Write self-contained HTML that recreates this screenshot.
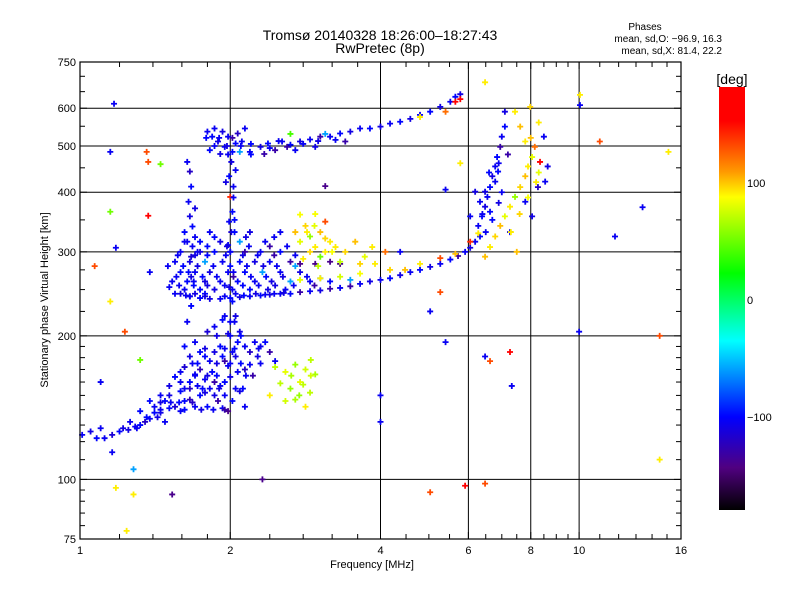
<!DOCTYPE html>
<html><head><meta charset="utf-8"><style>
html,body{margin:0;padding:0;background:#fff;}
svg{display:block;font-family:"Liberation Sans",sans-serif;}
</style></head><body>
<svg id="chart" width="800" height="600" viewBox="0 0 800 600" xmlns="http://www.w3.org/2000/svg">
<rect width="800" height="600" fill="#fff"/>
<text x="380" y="40" font-size="14" text-anchor="middle">Tromsø 20140328 18:26:00–18:27:43</text>
<text x="380" y="53" font-size="14" text-anchor="middle">RwPretec (8p)</text>
<text x="645" y="30" font-size="10" text-anchor="middle">Phases</text>
<text x="722" y="42" font-size="10" text-anchor="end">mean, sd,O: −96.9, 16.3</text>
<text x="722" y="54" font-size="10" text-anchor="end">mean, sd,X:  81.4, 22.2</text>
<text x="372" y="568" font-size="11" text-anchor="middle">Frequency [MHz]</text>
<text x="48" y="300" font-size="11" text-anchor="middle" transform="rotate(-90 48 300)">Stationary phase Virtual Height [km]</text>
<g id="grid"></g>
<g id="marks"></g>
<g id="axes"></g>
<defs><linearGradient id="cbg" x1="0" y1="0" x2="0" y2="1">
<stop offset="0" stop-color="#ff0000"/><stop offset="0.08" stop-color="#ff0000"/><stop offset="0.2" stop-color="#ff9900"/><stop offset="0.26" stop-color="#ffff00"/><stop offset="0.44" stop-color="#00ff00"/><stop offset="0.6" stop-color="#00ffff"/><stop offset="0.78" stop-color="#0000ff"/><stop offset="0.9" stop-color="#500080"/><stop offset="1" stop-color="#000000"/>
</linearGradient></defs>
<rect x="719" y="87" width="26" height="423" fill="url(#cbg)"/>
<text x="732" y="84" font-size="14" text-anchor="middle">[deg]</text>
<text x="747" y="187" font-size="11">100</text>
<text x="747" y="304" font-size="11">0</text>
<text x="747" y="421" font-size="11">−100</text>
</svg>
<script>
const xTicks=[1,2,4,6,8,10,16];
const xGrid=[2,4,6,8,10];
const xMinor=[1.2,1.4,1.6,1.8,2.4,2.8,3.2,3.6,4.5,5,5.5,6.5,7,7.5,8.5,9,9.5,11,12,13,14,15];
const yTicks=[75,100,200,300,400,500,600,750];
const yGrid=[100,200,300,400,500,600];
const yMinor=[80,85,90,95,110,120,130,140,150,160,170,180,190,225,250,275,350,450,550,650,700];
// [frequency MHz, height km, phase deg]
const eLayer=[[1.01,124,-105],[1.05,126,-110],[1.08,122,-100],[1.12,122,-105],[1.16,124,-115],[1.20,126,-100],[1.25,127,-110],[1.29,129,-105],[1.32,130,-100],[1.35,132,-120],[1.38,134,-105],[1.41,138,-100],[1.45,138,-110],[1.48,132,-105],[1.51,141,-100],[1.55,142,-115],[1.59,139,-105],[1.62,146,-100],[1.66,147,-125],[1.70,142,-105],[1.74,150,-100],[1.78,152,-110],[1.82,155,-105],[1.86,160,-130],[1.91,157,-105],[1.95,160,-100],[2.00,164,-110],[2.07,168,-105],[2.14,170,-120],[2.19,174,-105],[2.27,181,-110],
[1.38,146,-100],[1.45,150,-105],[1.51,157,-110],[1.55,164,-100],[1.59,168,-105],[1.62,172,-115],[1.66,160,-100],[1.70,166,-105],[1.74,170,-125],[1.78,181,-100],[1.82,177,-105],[1.86,185,-110],[1.91,190,-100],[1.95,177,-130],[2.02,185,-105],[2.07,194,-100],[2.09,204,-110],[2.14,190,-105],[2.19,185,-120],[2.24,194,-105],[1.62,190,-100],[1.66,181,-110],[1.70,194,-105],[1.74,185,-100],[1.80,204,-115],[1.86,209,-105],[1.93,216,-100],[1.98,202,-110],[2.04,214,-105],[1.89,146,-130],[1.95,150,-105],[2.02,146,-100],[2.09,153,-110],[2.14,142,-105],[1.32,139,-100],[1.26,132,-105],[1.45,145,-110],[2.30,190,-105],[2.40,185,-130],[2.46,177,-105],[2.35,194,-100],[1.98,139,-140],[1.93,141,-105],[1.59,153,-100],[1.51,150,-110],[1.78,162,-105],[1.84,168,-100],[1.66,155,-120],[1.72,157,-105],[1.80,142,-100],[1.86,150,-110],[1.59,160,-105],[1.48,146,-100],[1.41,142,-105],[2.05,181,-110],[1.98,173,-105],[1.93,181,-100]];
const eLayerExtra=[[1.10,128,-105],[1.22,128,-110],[1.30,128,-105],[1.36,135,-100],[1.43,135,-110],[1.52,145,-105],[1.58,145,-100],[1.68,145,-120],[1.62,155,-105],[1.76,155,-100],[1.90,155,-110],[2.05,155,-105],[2.12,155,-100],[1.70,165,-105],[1.80,165,-110],[1.88,165,-100],[2.15,165,-105],[2.22,165,-130],[1.68,175,-105],[1.72,175,-100],[1.88,175,-110],[2.00,175,-105],[2.10,175,-100],[2.30,175,-105],[1.78,188,-110],[1.95,188,-105],[2.04,188,-100],[2.28,188,-105],[1.88,200,-110],[2.00,200,-105],[2.10,200,-100],[1.95,220,-105],[2.05,220,-110],[1.45,140,-105],[1.62,140,-100],[1.75,140,-110],[1.85,140,-105],[1.95,140,-130]];
const columns=[[1.64,214,-105],[1.67,231,-100],[1.66,242,-110],[1.69,260,-105],[1.65,272,-100],[1.67,293,-115],[1.64,315,-105],[1.68,339,-100],[1.66,356,-110],[1.65,382,-105],[1.67,411,-100],[1.66,442,-120],[1.64,463,-105],
[2.00,214,-105],[2.02,236,-100],[1.99,253,-110],[2.03,272,-105],[2.00,300,-100],[2.01,330,-115],[1.99,347,-105],[2.02,364,-100],[2.00,391,140],[2.03,411,-105],[1.99,432,-100],[2.01,463,-110],
[1.72,300,-105],[1.62,330,-100],[1.70,370,-110],[1.98,310,-105],[2.04,350,-100],[2.03,390,-105],[1.96,420,-110],[2.05,445,-105]];
const upperTrace=[[1.80,536,-105],[1.84,523,-100],[1.89,511,-110],[1.95,498,-105],[2.02,486,-100],[2.07,531,-120],[2.11,511,-105],[1.82,490,-100],[1.91,481,-110],[1.98,523,-105],[2.05,506,-100],[1.86,544,-105],[1.93,536,-110],[2.09,486,-60],[2.14,544,-105],
[2.19,486,-105],[2.30,498,-110],[2.38,506,-100],[2.46,490,-130],[2.54,511,-105],[2.64,503,-100],[2.76,511,-110],[2.89,516,-105],[3.03,523,-130],[3.17,523,-105],[3.32,531,-100],[3.48,536,-110],[3.64,544,-105],[3.81,544,-100],[4.00,549,-110],[4.18,557,-105],[4.38,562,-100],[4.59,570,-110],[4.80,581,-105],[5.03,590,-100],[5.27,604,-110],[5.52,619,-105],[5.65,634,-100],[5.78,642,-110],
[2.34,481,-130],[2.70,490,-105],[2.96,498,-110],[3.40,511,-130],[5.65,619,150],[5.78,627,170],[5.40,590,120],[4.80,575,90],[2.64,530,40],[3.10,530,-60],
[1.86,500,-105],[1.97,500,-110],[2.10,500,-105],[1.79,520,-100],[1.90,520,-105],[2.02,520,-130],[1.98,480,-105],[2.20,480,-100],[2.40,495,-105],[2.60,498,-130],[2.80,505,-105],[3.00,512,-110],[3.25,515,-105],[2.20,505,-100],[2.50,512,-105]];
const fLayer=[[1.51,253,-105],[1.59,245,-110],[1.66,242,-105],[1.74,240,-100],[1.82,239,-110],[1.91,239,-105],[2.00,240,-100],[2.09,241,-110],[2.19,242,-105],[2.30,243,-100],[2.40,244,-110],[2.52,245,-105],[2.64,245,-100],[2.76,247,-130],[2.89,248,-105],[3.03,249,-110],[3.17,251,-130],[3.32,252,-105],[3.48,254,-130],[3.64,257,-105],[3.81,260,-110],[4.00,262,-105],[4.18,264,-100],[4.38,268,-110],[4.59,272,-105],[4.80,275,-100],[5.03,279,-110],[5.27,283,-105],[5.52,289,-100],[5.72,294,-130],[5.91,300,-105],[6.05,306,-110],[6.19,315,-105],[6.33,323,-100],
[1.59,300,-105],[1.74,300,-110],[1.86,300,-100],[2.00,300,-105],[2.14,300,-130],[2.30,300,-105],[2.52,300,-100],
[1.55,286,-105],[1.66,286,-110],[1.78,286,-60],[1.93,286,-105],[2.09,286,-100],[2.24,286,-110],[2.40,286,-105],[2.64,286,-130],
[1.59,272,-100],[1.70,272,-105],[1.82,272,-110],[1.98,272,-105],[2.14,272,-100],[2.32,272,-60],[2.52,272,-105],[2.76,272,-110],
[1.53,260,-105],[1.64,260,-100],[1.78,260,-110],[1.91,260,-105],[2.07,260,-100],[2.24,260,-105],[2.42,260,-110],[2.64,260,-60],[2.89,260,-105],[3.17,260,-100],
[1.62,250,-105],[1.74,250,-100],[1.86,250,-110],[2.02,250,-105],[2.19,250,-100],[2.38,250,-110],[2.58,250,-105],
[1.62,315,-105],[1.74,315,-100],[1.91,315,-110],[2.09,315,-60],[2.35,315,-105],
[1.82,330,-105],[2.04,330,-100],[2.19,330,-110],[2.52,330,-105],
[2.76,283,-140],[2.96,283,-140],[3.17,286,-140],[3.32,283,-140],[3.03,264,-60],[3.48,262,-60]];
const fLayerExtra=[[1.57,295,-105],[1.70,295,-110],[1.80,295,-100],[1.96,295,-105],[2.12,295,-110],[2.27,295,-105],[2.45,295,-130],[2.70,295,-105],
[1.50,280,-105],[1.61,280,-100],[1.72,280,-110],[1.85,280,-105],[2.00,280,-100],[2.16,280,-105],[2.33,280,-110],[2.48,280,-105],[2.70,280,-60],
[1.56,266,-105],[1.67,266,-110],[1.76,266,-100],[1.88,266,-105],[2.03,266,-130],[2.20,266,-105],[2.36,266,-100],[2.55,266,-110],[2.85,266,-105],
[1.58,255,-105],[1.69,255,-100],[1.80,255,-110],[1.95,255,-105],[2.12,255,-100],[2.28,255,-105],[2.46,255,-110],[2.68,255,-105],[2.95,255,-130],
[1.55,245,-105],[1.70,245,-110],[1.78,245,-100],[2.05,245,-105],[2.25,245,-110],[2.45,245,-105],
[1.68,308,-105],[1.80,308,-100],[1.97,308,-110],[2.18,308,-105],[2.40,308,-130],[2.60,308,-105],
[1.70,322,-105],[1.86,322,-100],[2.15,322,-110],[2.45,322,-105],
[1.63,243,-105],[1.78,242,-110],[1.95,242,-105],[2.13,243,-100],[2.35,244,-105],[2.56,246,-110]];
const xModeYellow=[[2.76,359,85],[2.83,340,95],[2.89,323,60],[2.96,307,90],[3.03,330,100],[3.10,347,130],[2.76,315,80],[2.89,300,95],[3.03,293,50],[3.17,315,90],[2.70,330,100],[2.96,360,85],[3.10,300,90],
[3.25,307,90],[3.40,300,95],[3.56,315,100],[3.72,293,80],[3.85,307,90],[3.32,286,70],[3.64,283,95],[3.90,283,90],[4.09,300,120],
[2.76,262,80],[3.03,264,90],[3.32,266,75],[3.64,270,85],[4.18,275,95],[4.48,275,100],[4.80,283,90],[5.27,291,130],[5.65,297,100],[6.05,315,140],[6.28,328,90],
[2.46,172,70],[2.58,168,80],[2.70,174,60],[2.83,170,75],[2.96,166,65],[2.52,159,70],[2.64,155,60],[2.76,160,80],[2.89,152,70],[2.70,147,65],[2.58,146,75],[2.83,142,90],[2.40,150,90],[2.90,178,70],
[2.85,330,90],[2.95,340,80],[3.10,320,95],[3.20,300,85],[2.80,290,90],[3.00,280,70],[2.65,165,65],[2.80,158,70],[2.90,165,75],[2.75,150,60]];
const upperRight=[[6.28,340,-105],[6.39,356,-100],[6.48,373,-110],[6.55,391,-105],[6.63,410,-100],[6.70,432,-110],[6.79,453,-105],[6.85,474,-100],[6.95,498,-130],[7.00,523,-105],[7.10,549,-100],[6.33,382,-105],[6.48,401,-110],[6.63,364,-100],[6.79,421,-105],[6.19,401,-110],[6.05,356,-105],[6.88,442,-100],[7.10,590,-110],
[6.48,293,100],[6.63,307,90],[6.79,323,95],[6.95,340,100],[7.10,356,80],[7.27,373,90],[7.44,391,60],[7.62,410,95],[7.80,432,100],[7.90,453,90],[8.05,474,80],[8.15,498,120],[7.80,511,90],[7.62,549,100],[7.44,590,90],[7.98,604,95],[8.35,463,170],[8.55,421,-105],[8.65,453,-110],[8.27,410,-120],[8.50,523,-105],[7.80,382,-105],[8.05,356,-110],[7.27,330,-105],
[6.50,330,-105],[6.70,350,-100],[6.90,380,-110],[7.00,400,-105],[6.60,440,-100],[6.90,460,-105],[7.20,480,-130],[6.40,360,-105],
[7.30,330,90],[7.60,360,95],[7.90,390,85],[8.20,420,90],[8.30,440,80],[7.50,300,100],[8.00,520,100],[8.30,560,90]];
const scattered=[[1.17,613,-105],[1.15,486,-105],[1.36,486,130],[1.37,463,130],[1.45,458,50],[1.15,364,50],[1.37,357,170],[1.18,306,-105],[1.07,280,130],[1.15,236,90],[1.23,204,130],[1.38,272,-105],[1.32,178,50],[1.16,114,-105],[1.18,96,90],[1.28,93,90],[1.53,93,-140],[1.24,78,90],[2.32,100,-140],[5.03,94,130],[5.91,97,170],[6.48,98,130],[6.48,181,-105],[6.63,177,130],[7.27,185,170],[7.33,157,-105],[5.78,460,90],[5.40,405,-105],[6.48,680,90],[10.04,640,90],[10.04,609,-105],[11.0,511,130],[11.8,323,-105],[13.4,372,-105],[15.1,486,90],[14.5,200,130],[14.5,110,90],[10.0,204,-105],[4.0,150,-105],[4.0,132,-105],[5.27,247,130],[5.03,225,-105],[4.38,300,-105],[5.40,194,-105],[3.10,412,-140],[1.10,160,-105],[1.28,105,-60]];

const X0=80,X1=681,Y0=62,Y1=539;
function xs(f){return X0+(X1-X0)*Math.log2(f)/4;}
function ys(h){return Y1-(Y1-Y0)*Math.log10(h/75);}
const stops=[[0,[255,0,0]],[0.08,[255,0,0]],[0.2,[255,153,0]],[0.26,[255,255,0]],[0.44,[0,255,0]],[0.6,[0,255,255]],[0.78,[0,0,255]],[0.9,[80,0,128]],[1,[0,0,0]]];
function col(p){let t=(180-p)/360;t=Math.max(0,Math.min(1,t));
 for(let i=1;i<stops.length;i++){if(t<=stops[i][0]){const a=stops[i-1],b=stops[i];const u=(t-a[0])/(b[0]-a[0]||1);
  return 'rgb('+a[1].map((v,k)=>Math.round(v+(b[1][k]-v)*u)).join(',')+')';}}return '#000';}
const NS='http://www.w3.org/2000/svg';
function mk(tag,attrs,parent){const e=document.createElementNS(NS,tag);for(const k in attrs)e.setAttribute(k,attrs[k]);parent.appendChild(e);return e;}
const grid=document.getElementById('grid'),marks=document.getElementById('marks'),axes=document.getElementById('axes');
xGrid.forEach(v=>{const l=mk('line',{x1:xs(v),x2:xs(v),y1:Y0,y2:Y1,stroke:'#000','stroke-width':1},grid);

});
yGrid.forEach(v=>{const l=mk('line',{x1:X0,x2:X1,y1:ys(v),y2:ys(v),stroke:'#000','stroke-width':1},grid);

});
function plot(arr,name){arr.forEach(p=>{const x=xs(p[0]),y=ys(p[1]);
 const g=mk('path',{d:`M${x-3} ${y}H${x+3}M${x} ${y-3}V${y+3}`,stroke:col(p[2]),'stroke-width':1.8,fill:'none'},marks);
 
 });}
plot(eLayer,'e-layer-point');plot(eLayerExtra,'e-layer-point');plot(columns,'column-point');plot(upperTrace,'upper-trace-point');
plot(fLayer,'f-layer-point');plot(fLayerExtra,'f-layer-point');
plot(xModeYellow,'x-mode-point');plot(upperRight,'upper-right-point');plot(scattered,'scattered-point');
const fr=mk('rect',{x:X0,y:Y0,width:X1-X0,height:Y1-Y0,fill:'none',stroke:'#000','stroke-width':1.2},axes);


xTicks.concat(xMinor).forEach(v=>{const x=xs(v);const L=xTicks.includes(v)?7:5;
 mk('line',{x1:x,x2:x,y1:Y1,y2:Y1-L,stroke:'#000'},axes);mk('line',{x1:x,x2:x,y1:Y0,y2:Y0+L,stroke:'#000'},axes);});
xTicks.forEach(v=>{const t=mk('text',{x:xs(v),y:Y1+15,'font-size':11,'text-anchor':'middle'},axes);t.textContent=v;

});
yTicks.concat(yMinor).forEach(v=>{const y=ys(v);const L=yTicks.includes(v)?7:5;
 mk('line',{x1:X0,x2:X0+L,y1:y,y2:y,stroke:'#000'},axes);mk('line',{x1:X1,x2:X1-L,y1:y,y2:y,stroke:'#000'},axes);});
yTicks.forEach(v=>{const t=mk('text',{x:X0-4,y:ys(v)+4,'font-size':11,'text-anchor':'end'},axes);t.textContent=v;

});
</script>
</body></html>
